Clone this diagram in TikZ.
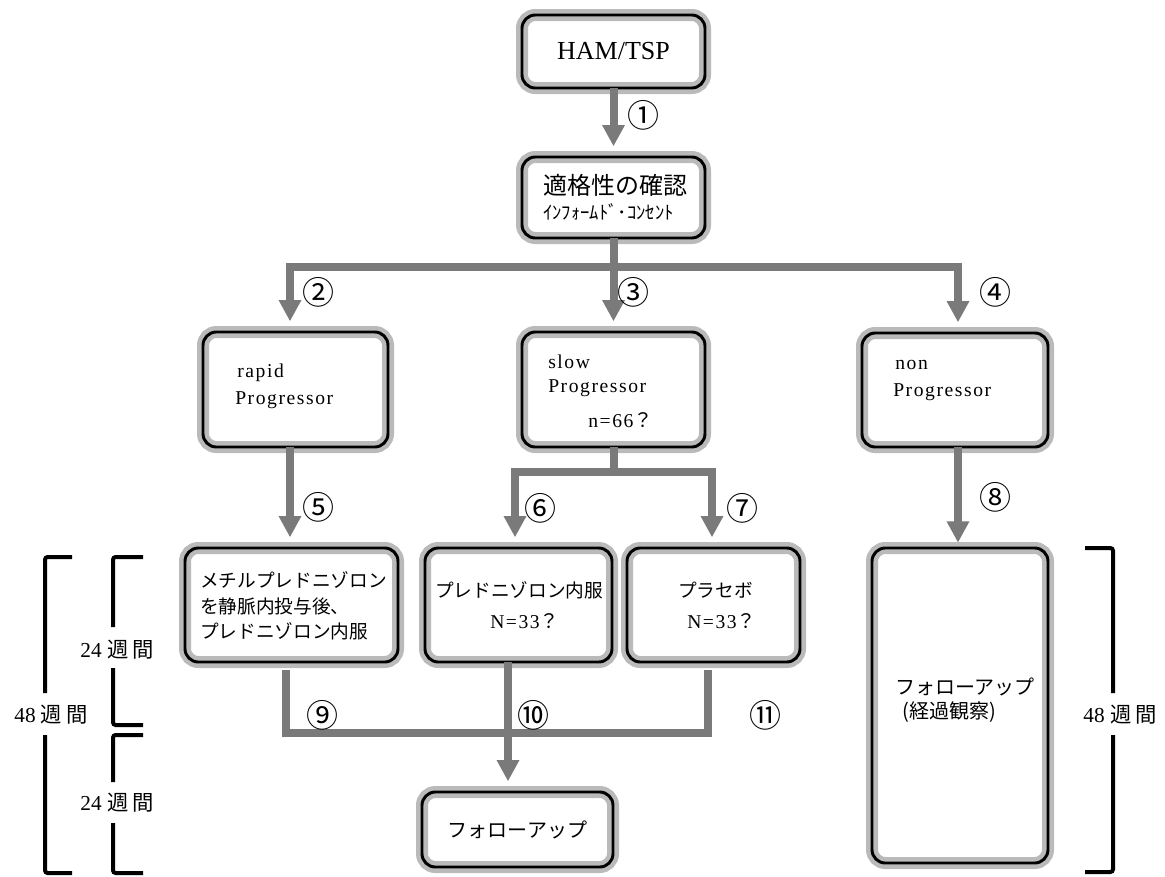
\documentclass[tikz,border=0pt]{standalone}
\usepackage{fontspec}
\setmainfont{Liberation Serif}
\newfontfamily\jp{Noto Sans CJK JP}
\newfontfamily\lsf{Liberation Serif}[LetterSpace=8]
\usetikzlibrary{arrows.meta}
\begin{document}
\begin{tikzpicture}[x=0.75pt,y=-0.75pt,
  box/.style={rectangle, rounded corners=10pt, inner sep=0pt, outer sep=0pt,
    preaction={fill=white}, draw=black!27, line width=9pt,
    postaction={draw=black, line width=2.2pt}},
  gline/.style={draw=black!52, line width=6pt},
  arr/.style={gline, -{Triangle[width=16pt,length=16pt]}, shorten >=8pt},
  num/.style={inner sep=0pt, font=\jp\fontsize{24pt}{26pt}\selectfont},
  jt/.style={inner sep=0pt, anchor=west, font=\jp\fontsize{14pt}{16pt}\selectfont},
  lt/.style={inner sep=0pt, anchor=west, font=\lsf\fontsize{14.7pt}{16pt}\selectfont},
  brk/.style={draw=black, line width=3pt, rounded corners=2pt},
  wk/.style={inner sep=0pt, font=\fontsize{16pt}{18pt}\selectfont}
]
\useasboundingbox (0,0) rectangle (1165,876);

% boxes
\node[box, minimum width=137.25pt, minimum height=54.75pt, font=\fontsize{19.5pt}{21pt}\selectfont] (ham) at (613.5,51.5) {HAM/TSP};
\node[box, minimum width=137.25pt, minimum height=60.75pt] (elig) at (613.5,197.5) {};
\node[box, minimum width=138.75pt, minimum height=86.25pt] (rapid) at (295.5,389.5) {};
\node[box, minimum width=137.25pt, minimum height=86.25pt] (slow) at (613.5,389.5) {};
\node[box, minimum width=139.5pt, minimum height=85.5pt] (non) at (955,390) {};
\node[box, minimum width=159.75pt, minimum height=85.5pt] (meth) at (291.5,605) {};
\node[box, minimum width=140.25pt, minimum height=85.5pt] (pred) at (518.5,605) {};
\node[box, minimum width=129.75pt, minimum height=85.5pt] (plac) at (713.5,605) {};
\node[box, minimum width=143.25pt, minimum height=56.25pt, font=\jp\fontsize{15pt}{17pt}\selectfont] (fu1) at (517.5,829.5) {フォローアップ};
\node[box, minimum width=132pt, minimum height=236.25pt] (fu2) at (960,705.5) {};

% texts in boxes
\node[jt, font=\jp\fontsize{18pt}{20pt}\selectfont] (te1) at (543,185) {適格性の確認};
\node[jt, font=\jp\fontsize{14pt}{16pt}\selectfont] (te2) at (543,212) {ｲﾝﾌｫｰﾑﾄﾞ･ｺﾝｾﾝﾄ};
\node[lt] (tr1) at (237,373) {rapid};
\node[lt] (tr2) at (235,400) {Progressor};
\node[lt] (ts1) at (548,362) {slow};
\node[lt] (ts2) at (548,388) {Progressor};
\node[lt] (ts3) at (588,420) {n=66{\jp ？}};
\node[lt] (tn1) at (895,365) {non};
\node[lt] (tn2) at (893,392) {Progressor};
\node[jt] (tm1) at (200,580) {メチルプレドニゾロン};
\node[jt] (tm2) at (200,606) {を静脈内投与後、};
\node[jt] (tm3) at (200,631) {プレドニゾロン内服};
\node[jt] (tp1) at (435,590) {プレドニゾロン内服};
\node[lt] (tp2) at (490,621) {N=33{\jp ？}};
\node[jt] (tq1) at (678,590) {プラセボ};
\node[lt] (tq2) at (687,621) {N=33{\jp ？}};
\node[jt, font=\jp\fontsize{15pt}{17pt}\selectfont] (tf1) at (895,687) {フォローアップ};
\node[jt, font=\jp\fontsize{15pt}{17pt}\selectfont] (tf2) at (902,712) {(経過観察)};

% helper coordinates
\coordinate (bus) at (613.5,267);
\coordinate (split) at (613.5,472);
\coordinate (merge) at (508,733);
\coordinate (cA) at (290,0);
\coordinate (cC) at (958,0);
\coordinate (c6) at (515,0);
\coordinate (c7) at (712,0);
\coordinate (c9) at (286,0);
\coordinate (c10) at (508,0);
\coordinate (c11) at (708,0);

% connectors
\draw[arr] (ham.south) -- (elig.north);
\draw[gline] (elig.south) -- (bus);
\draw[arr] (bus) -| (rapid.north -| cA);
\draw[arr] (bus) -- (slow.north);
\draw[arr] (bus) -| (non.north -| cC);
\draw[arr] (rapid.south -| cA) -- (meth.north -| cA);
\draw[gline] (slow.south) -- (split);
\draw[arr] (split) -| (pred.north -| c6);
\draw[arr] (split) -| (plac.north -| c7);
\draw[arr, shorten >=4pt] (non.south -| cC) -- (fu2.north -| cC);
\draw[gline, shorten <=6pt, shorten >=6pt] (meth.south -| c9) |- (merge) -| (plac.south -| c11);
\draw[arr] (pred.south -| c10) -- (fu1.north -| c10);

% circled numbers
\node[num] (n1) at (643,115) {①};
\node[num] (n2) at (318,292) {②};
\node[num] (n3) at (633,292) {③};
\node[num] (n4) at (995,292) {④};
\node[num] (n5) at (318,507) {⑤};
\node[num] (n6) at (540,508) {⑥};
\node[num] (n7) at (742,508) {⑦};
\node[num] (n8) at (995,497) {⑧};
\node[num] (n9) at (322,715) {⑨};
\node[num] (n10) at (533,715) {⑩};
\node[num] (n11) at (765,715) {⑪};

% brackets
\draw[brk] (72,557) -- (45,557) -- (45,693);
\draw[brk] (45,735) -- (45,873) -- (72,873);
\draw[brk] (143,557) -- (113,557) -- (113,627);
\draw[brk] (113,668) -- (113,725) -- (143,725);
\draw[brk] (143,735) -- (113,735) -- (113,782);
\draw[brk] (113,823) -- (113,873) -- (143,873);
\draw[brk] (1085,548) -- (1113,548) -- (1113,693);
\draw[brk] (1113,735) -- (1113,872) -- (1085,872);

\node[wk] (w1) at (117,650) {24\hspace{4pt}{\jp 週}\hspace{3pt}{\jp 間}};
\node[wk] (w2) at (117,803) {24\hspace{4pt}{\jp 週}\hspace{3pt}{\jp 間}};
\node[wk] (w3) at (51,715) {48\hspace{4pt}{\jp 週}\hspace{3pt}{\jp 間}};
\node[wk] (w4) at (1120,715) {48\hspace{4pt}{\jp 週}\hspace{3pt}{\jp 間}};
\end{tikzpicture}
\end{document}
